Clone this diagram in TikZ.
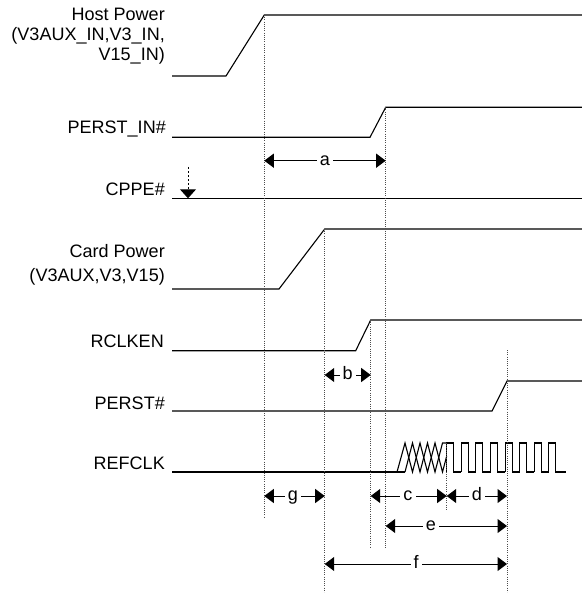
\documentclass[tikz,border=0pt]{standalone}
\usepackage{fontspec}
\setmainfont{Liberation Sans}
\usetikzlibrary{arrows.meta}
\begin{document}
\begin{tikzpicture}[x=1bp,y=-1bp,
  sig/.style={line width=1.1bp, line join=miter},
  vguide/.style={line width=0.8bp, dash pattern=on 1bp off 1.2bp, black!70},
  dim/.style={line width=1bp, {Triangle[length=9.5bp,width=14bp]}-{Triangle[length=9.5bp,width=14bp]}},
  lbl/.style={anchor=base east, inner sep=0pt, font=\fontsize{18.1}{20}\selectfont},
  dlbl/.style={fill=white, inner xsep=3bp, inner ysep=1bp, text height=9.4bp, text depth=0bp, anchor=center, font=\fontsize{18.1}{20}\selectfont},
]
\useasboundingbox (0,0) rectangle (582,599);

% labels
\node[lbl] (hp1) at (165,20.7) {Host Power};
\node[lbl] (hp2) at (165,40.7) {(V3AUX\_IN,V3\_IN,};
\node[lbl] (hp3) at (165,60.7) {V15\_IN)};
\node[lbl] (pin) at (166,134) {PERST\_IN\#};
\node[lbl] (cppe) at (165,195) {CPPE\#};
\node[lbl] (cp1) at (165,257) {Card Power};
\node[lbl] (cp2) at (165,281) {(V3AUX,V3,V15)};
\node[lbl] (rclk) at (164,347) {RCLKEN};
\node[lbl] (perst) at (165,409) {PERST\#};
\node[lbl] (refclk) at (165,469.5) {REFCLK};

% signals
\draw[sig] (172,76) -- (226,76) -- (264.3,15) -- (582,15);
\draw[sig] (172,137.3) -- (370,137.3) -- (385.7,107.3) -- (582,107.3);
\draw[sig] (172,198.3) -- (582,198.3);
\draw[line width=0.9bp, dash pattern=on 2bp off 2bp, -{Triangle[length=9bp,width=16bp]}] (188,167) -- (188,198.3);
\draw[sig] (172,289) -- (279,289) -- (324.7,229) -- (582,229);
\draw[sig] (172,350.7) -- (355.7,350.7) -- (370.7,320) -- (582,320);
\draw[sig] (172,411) -- (492,411) -- (507,381) -- (582,381);
\draw[sig] (172,472) -- (405,472);
\draw[sig] (397,472) -- (405,443) -- (412.5,472) -- (420,443) -- (427.5,472) -- (435,443) -- (442.5,472) -- (446.7,456);
\draw[sig] (405,472) -- (412.5,443) -- (420,472) -- (427.5,443) -- (435,472) -- (442.5,443) -- (446.7,443);
\foreach \k in {0,...,7} {
  \draw[sig] ({446.7+14.6*\k},472) -- ({446.7+14.6*\k},443) -- ({453.7+14.6*\k},443) -- ({453.7+14.6*\k},472) -- ({461.3+14.6*\k},472);
}
\draw[sig] (561,472) -- (566,472);

% guide coordinates
\coordinate (v1t) at (264.3,15);   \coordinate (v1b) at (264.3,518);
\coordinate (v2t) at (324.7,229);  \coordinate (v2b) at (324.7,592);
\coordinate (v3t) at (370.7,320);  \coordinate (v3b) at (370.7,548);
\coordinate (v4t) at (385.7,107.3);\coordinate (v4b) at (385.7,548);
\coordinate (v5t) at (446.7,443);  \coordinate (v5b) at (446.7,510);
\coordinate (v6t) at (507,350);    \coordinate (v6b) at (507,592);
\foreach \v in {1,...,6} { \draw[vguide] (v\v t) -- (v\v b); }

% dimension arrows
\coordinate (aL) at (264.3,160.7); \coordinate (aR) at (385.7,160.7);
\coordinate (bL) at (324.7,375);   \coordinate (bR) at (370.7,375);
\coordinate (gL) at (264.3,496);   \coordinate (gR) at (324.7,496);
\coordinate (cL) at (370.7,496);   \coordinate (cR) at (446.7,496);
\coordinate (dL) at (446.7,496);   \coordinate (dR) at (507,496);
\coordinate (eL) at (385.7,526);   \coordinate (eR) at (507,526);
\coordinate (fL) at (324.7,564);   \coordinate (fR) at (507,564);
\draw[dim] (aL) -- (aR); \node[dlbl] (la) at (325,160.7) {a};
\draw[dim] (bL) -- (bR); \node[dlbl] (lb) at (347.7,375) {b};
\draw[dim] (gL) -- (gR); \node[dlbl] (lg) at (293,496) {g};
\draw[dim] (cL) -- (cR); \node[dlbl] (lc) at (408,496) {c};
\draw[dim] (dL) -- (dR); \node[dlbl] (ld) at (477,496) {d};
\draw[dim] (eL) -- (eR); \node[dlbl] (le) at (431,526) {e};
\draw[dim] (fL) -- (fR); \node[dlbl] (lf) at (416,564) {f};
\end{tikzpicture}
\end{document}
